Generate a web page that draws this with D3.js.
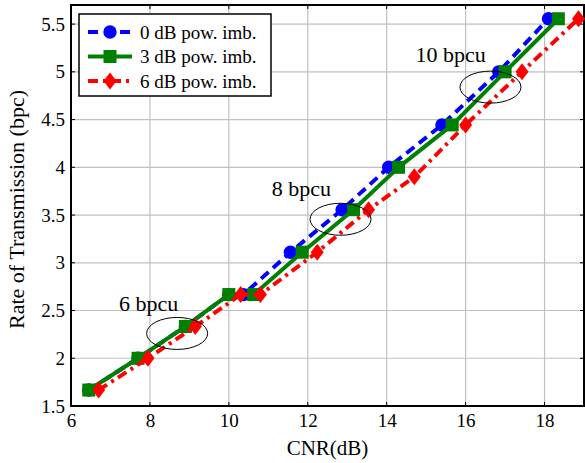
<!DOCTYPE html>
<html>
<head>
<meta charset="utf-8">
<script src="https://cdn.jsdelivr.net/npm/d3@7"></script>
<style>
  html, body { margin: 0; padding: 0; background: #fff; }
  svg text { font-family: "Liberation Serif", "Times New Roman", serif; }
</style>
</head>
<body>
<svg id="chart" width="585" height="463"></svg>
<script>
// CNR (dB) and transmission rate (bpc) for each power-imbalance case
const cnr0dB  = [6.45, 7.7, 8.9, 10.0, 10.37, 11.56, 12.87, 14.05, 15.4, 16.84, 18.1];
const rate0dB = [1.667, 2.0, 2.333, 2.667, 2.667, 3.111, 3.556, 4.0, 4.444, 5.0, 5.556];

const cnr3dB  = [6.45, 7.7, 8.9, 10.0, 10.63, 11.86, 13.16, 14.3, 15.66, 17.0, 18.35];
const rate3dB = [1.667, 2.0, 2.333, 2.667, 2.667, 3.111, 3.556, 4.0, 4.444, 5.0, 5.556];

const cnr6dB  = [6.7, 7.95, 9.15, 10.3, 10.8, 12.24, 13.54, 14.7, 16.0, 17.43, 18.86];
const rate6dB = [1.667, 2.0, 2.333, 2.667, 2.667, 3.111, 3.556, 3.9, 4.444, 5.0, 5.556];

const seriesNames = ["0 dB pow. imb.", "3 dB pow. imb.", "6 dB pow. imb."];
const xTicks = [6, 8, 10, 12, 14, 16, 18];
const yTicks = [1.5, 2, 2.5, 3, 3.5, 4, 4.5, 5, 5.5];

// rate groups marked with an ellipse: label, ellipse centre and label anchor (CNR, rate)
const groupLabels   = ["6 bpcu", "8 bpcu", "10 bpcu"];
const groupCNR      = [8.69, 12.83, 16.63];
const groupRate     = [2.26, 3.456, 4.84];
const groupLabelCNR = [7.97, 11.84, 15.62];
const groupLabelRate= [2.5, 3.7, 5.1];

const svg = d3.select("#chart");
const margin = { left: 71, right: 1, top: 5, bottom: 57 };
const W = 585, H = 463;

const x = d3.scaleLinear().domain([6, 19]).range([margin.left, W - margin.right]);
const y = d3.scaleLinear().domain([1.5, 5.7]).range([H - margin.bottom, margin.top]);

const fontSize = 19;

// grid
const grid = svg.append("g").attr("stroke", "#c0c0c0").attr("stroke-width", 1.2);
xTicks.filter(v => v > 6).forEach(v => {
  grid.append("line").attr("x1", x(v)).attr("x2", x(v)).attr("y1", y(1.5)).attr("y2", y(5.7));
});
yTicks.filter(v => v > 1.5).forEach(v => {
  grid.append("line").attr("x1", x(6)).attr("x2", x(19)).attr("y1", y(v)).attr("y2", y(v));
});

// axes
const xAxis = d3.axisBottom(x).tickValues(xTicks).tickSize(0).tickPadding(8).tickFormat(d3.format("d"));
const yAxis = d3.axisLeft(y).tickValues(yTicks).tickSize(0).tickPadding(6).tickFormat(d => d);

const gx = svg.append("g").attr("transform", `translate(0,${y(1.5)})`).call(xAxis);
const gy = svg.append("g").attr("transform", `translate(${x(6)},0)`).call(yAxis);
[gx, gy].forEach(g => {
  g.select(".domain").remove();
  g.selectAll("text").attr("font-size", fontSize).attr("fill", "#000")
    .style("font-family", "'Liberation Serif', 'Times New Roman', serif");
});

// small inward tick marks on all four sides
const ticks = svg.append("g").attr("stroke", "#000").attr("stroke-width", 1);
xTicks.forEach(v => {
  ticks.append("line").attr("x1", x(v)).attr("x2", x(v)).attr("y1", y(1.5)).attr("y2", y(1.5) - 4);
  ticks.append("line").attr("x1", x(v)).attr("x2", x(v)).attr("y1", y(5.7)).attr("y2", y(5.7) + 4);
});
yTicks.forEach(v => {
  ticks.append("line").attr("x1", x(6)).attr("x2", x(6) + 4).attr("y1", y(v)).attr("y2", y(v));
  ticks.append("line").attr("x1", x(19)).attr("x2", x(19) - 4).attr("y1", y(v)).attr("y2", y(v));
});

// frame
svg.append("rect")
  .attr("x", x(6)).attr("y", y(5.7))
  .attr("width", x(19) - x(6)).attr("height", y(1.5) - y(5.7))
  .attr("fill", "none").attr("stroke", "#000").attr("stroke-width", 2);

// axis titles
svg.append("text")
  .attr("x", (x(6) + x(19)) / 2).attr("y", 455)
  .attr("text-anchor", "middle").attr("font-size", 21)
  .text("CNR(dB)");
svg.append("text")
  .attr("transform", `translate(24,${(y(1.5) + y(5.7)) / 2 + 4}) rotate(-90)`)
  .attr("text-anchor", "middle").attr("font-size", 22)
  .text("Rate of Transmission (bpc)");

// series
const series = [
  { name: seriesNames[0], cnr: cnr0dB, rate: rate0dB, color: "#0000ff", dash: "10,6", marker: "circle" },
  { name: seriesNames[1], cnr: cnr3dB, rate: rate3dB, color: "#008000", dash: null, marker: "square" },
  { name: seriesNames[2], cnr: cnr6dB, rate: rate6dB, color: "#ff0000", dash: "10,5,3,5", marker: "diamond" }
];

const line = d3.line().x(d => x(d[0])).y(d => y(d[1]));

function drawMarker(g, type, cx, cy, color) {
  if (type === "circle") {
    g.append("circle").attr("cx", cx).attr("cy", cy).attr("r", 6.7).attr("fill", color);
  } else if (type === "square") {
    g.append("rect").attr("x", cx - 6.5).attr("y", cy - 6.5).attr("width", 13).attr("height", 13).attr("fill", color);
  } else {
    g.append("path").attr("d", `M${cx},${cy - 8.5}L${cx + 6.5},${cy}L${cx},${cy + 8.5}L${cx - 6.5},${cy}Z`).attr("fill", color);
  }
}

series.forEach(s => {
  const pts = s.cnr.map((c, i) => [c, s.rate[i]]);
  const g = svg.append("g");
  g.append("path").datum(pts).attr("d", line)
    .attr("fill", "none").attr("stroke", s.color).attr("stroke-width", 4)
    .attr("stroke-dasharray", s.dash);
  pts.forEach(p => drawMarker(g, s.marker, x(p[0]), y(p[1]), s.color));
});

// group annotations
groupLabels.forEach((lab, i) => {
  svg.append("ellipse").attr("cx", x(groupCNR[i])).attr("cy", y(groupRate[i]))
    .attr("rx", 30.5).attr("ry", 16)
    .attr("fill", "none").attr("stroke", "#000").attr("stroke-width", 1);
  svg.append("text").attr("x", x(groupLabelCNR[i])).attr("y", y(groupLabelRate[i]))
    .attr("text-anchor", "middle").attr("font-size", 22).text(lab);
});

// legend
const lg = svg.append("g");
lg.append("rect").attr("x", 79).attr("y", 14).attr("width", 192).attr("height", 82)
  .attr("fill", "#fff").attr("stroke", "#000").attr("stroke-width", 1.5);
series.forEach((s, i) => {
  const ly = 32 + i * 24.5;
  lg.append("line").attr("x1", 88).attr("x2", 132).attr("y1", ly).attr("y2", ly)
    .attr("stroke", s.color).attr("stroke-width", 4).attr("stroke-dasharray", s.dash);
  drawMarker(lg, s.marker, 110, ly, s.color);
  lg.append("text").attr("x", 140).attr("y", ly + 6.5).attr("font-size", fontSize).text(s.name);
});
</script>
</body>
</html>
